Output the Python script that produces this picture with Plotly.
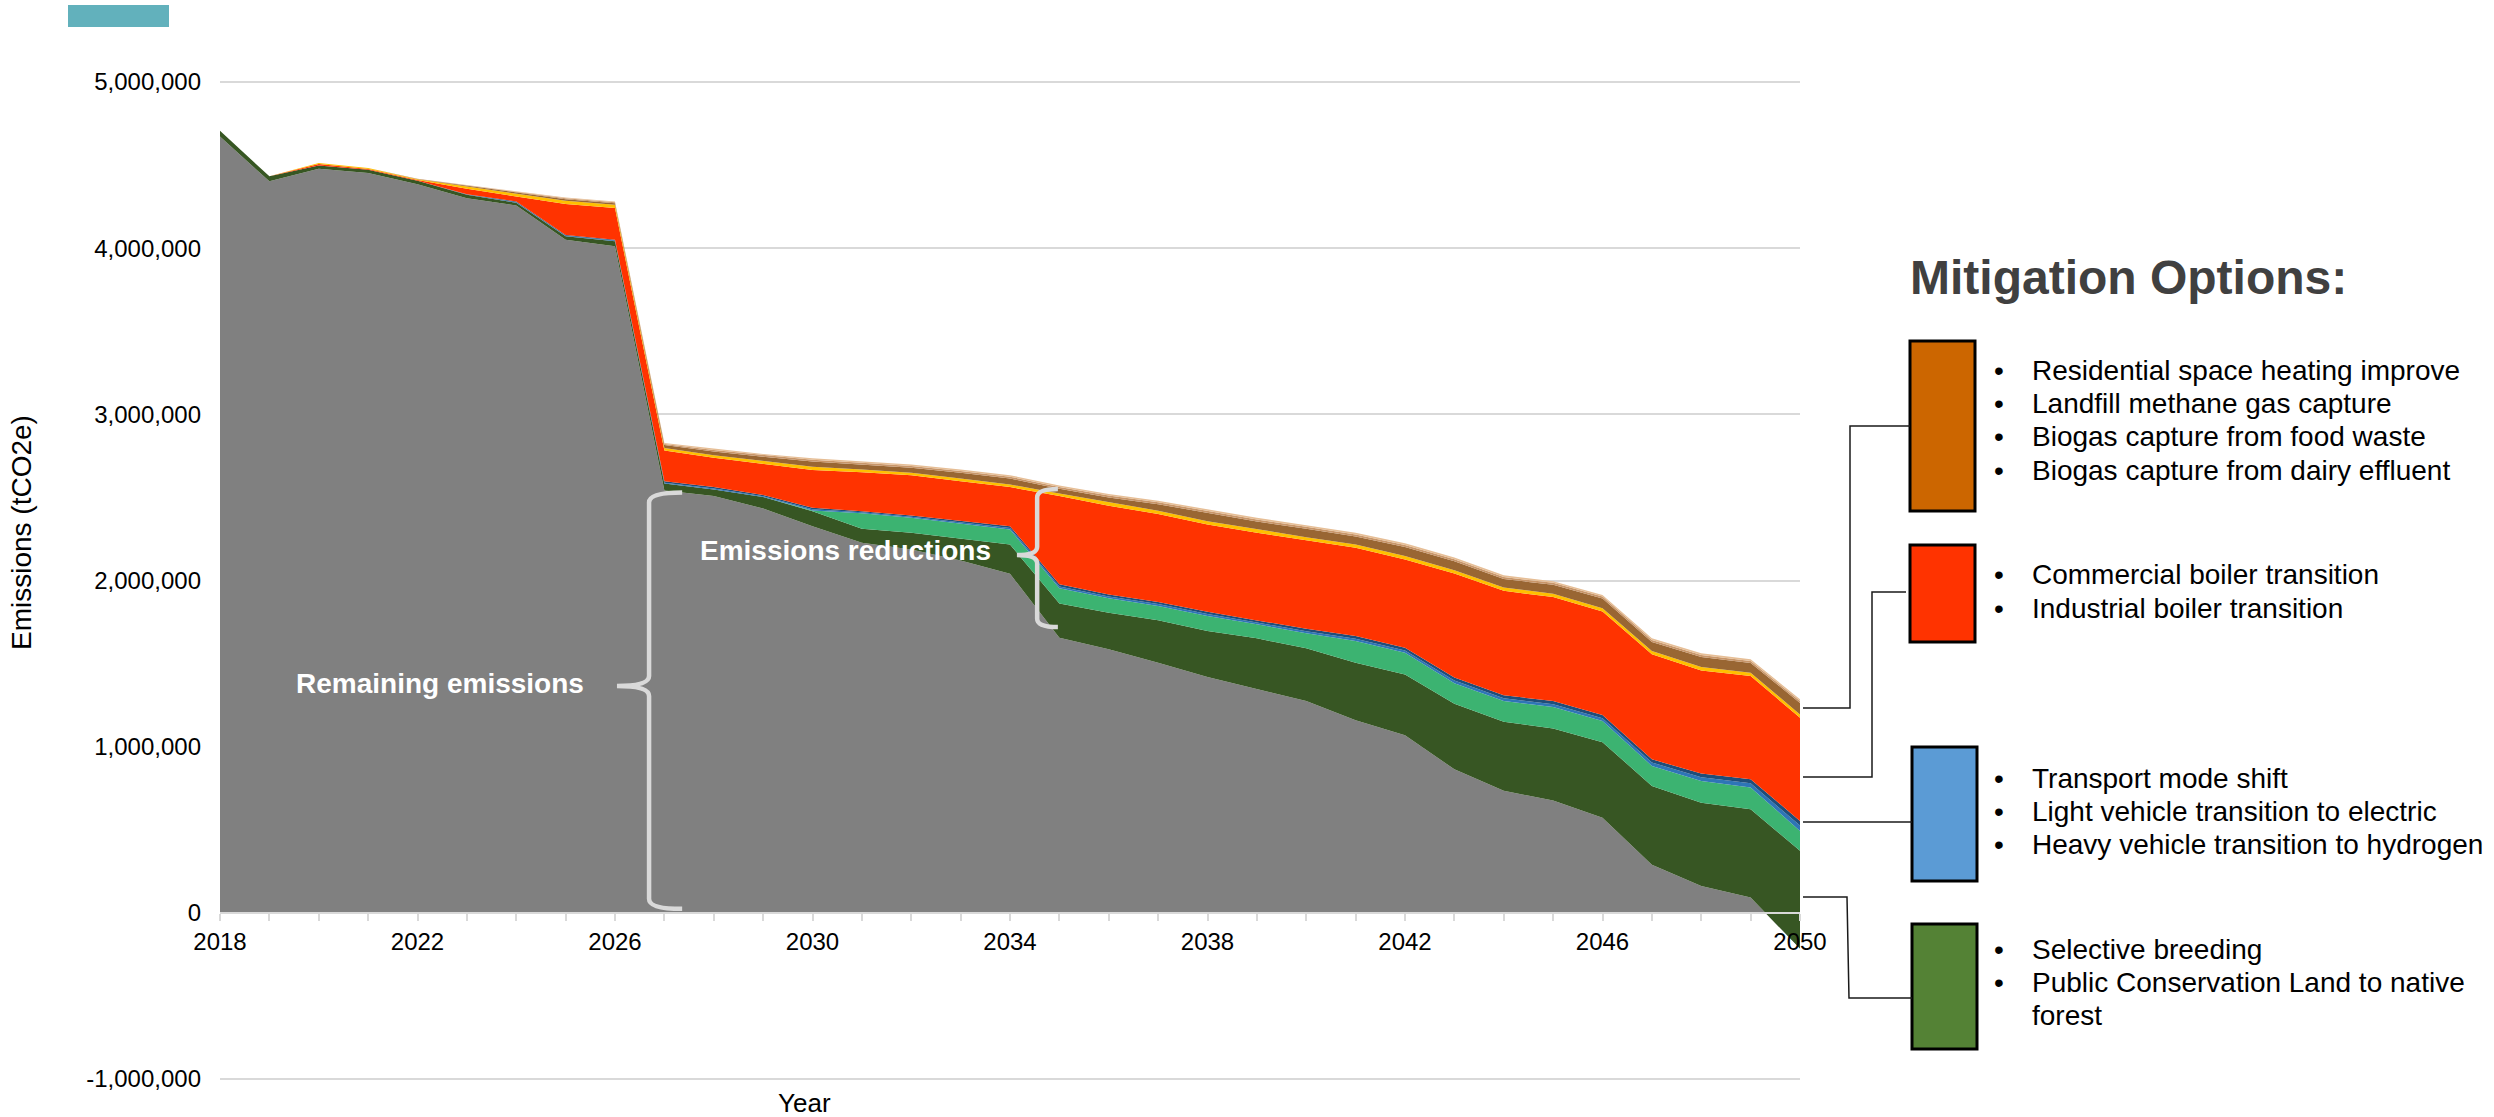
import plotly.graph_objects as go

# ---------------------------------------------------------------- data
years = list(range(2018, 2051))

# Remaining emissions after all mitigation (tCO2e)
remaining = [4672000, 4402000, 4478000, 4452000, 4385000, 4301000, 4257000, 4051000,
             4011000, 2541000, 2508000, 2434000, 2327000, 2227000, 2187000, 2121000,
             2040000, 1656000, 1586000, 1505000, 1419000, 1345000, 1275000, 1159000,
             1068000, 864000, 734000, 676000, 573000, 289000, 162000, 92000, -215000]

# Agriculture / land use group
native_forest = [34000, 30000, 20000, 20000, 20000, 20000, 16000, 20000, 30000, 42000,
                 40000, 68000, 90000, 84000, 100000, 132000, 177000, 205000, 220000,
                 256000, 277000, 307000, 317000, 346000, 367000, 395000, 416000, 434000,
                 454000, 475000, 501000, 532000, 588000]
selective_breeding = [0, 0, 0, 0, 0, 0, 0, 0, 0, 0, 0, 0, 5000, 93000, 90000, 90000,
                      90000, 92000, 87000, 86000, 90000, 84000, 90000, 131000, 130000,
                      122000, 125000, 129000, 128000, 120000, 131000, 130000, 120000]

# Transport group
transport_a = [0, 0, 0, 0, 0, 2000, 4000, 4000, 5000, 6000, 6000, 5000, 7000, 6000, 6000,
               6000, 9000, 11000, 10000, 11000, 12000, 11000, 13000, 14000, 14000, 17000,
               16000, 17000, 16000, 20000, 22000, 26000, 32000]
transport_b = [0, 0, 0, 0, 0, 2000, 4000, 4000, 5000, 8000, 8000, 7000, 9000, 7000, 8000,
               8000, 11000, 13000, 12000, 13000, 14000, 13000, 15000, 16000, 16000, 19000,
               18000, 19000, 19000, 20000, 22000, 24000, 28000]

# Boiler transitions
boilers = [0, 0, 8000, 4000, 5000, 32000, 30000, 186000, 190000, 185000, 176000, 188000,
           227000, 235000, 243000, 241000, 235000, 531000, 535000, 529000, 525000, 527000,
           531000, 531000, 532000, 625000, 629000, 625000, 623000, 632000, 621000, 621000,
           621000]

# Heating, waste and biogas group
heating = [0, 0, 6000, 6000, 5000, 14000, 18000, 20000, 20000, 16000, 16000, 16000, 20000,
           16000, 14000, 16000, 16000, 16000, 20000, 20000, 20000, 20000, 20000, 20000,
           20000, 20000, 20000, 20000, 20000, 20000, 20000, 20000, 20000]
landfill = [0, 0, 0, 0, 1000, 4000, 8000, 10000, 10000, 17000, 23000, 26000, 31000, 31000,
            31000, 34000, 36000, 28000, 30000, 39000, 48000, 48000, 50000, 48000, 55000,
            54000, 51000, 54000, 58000, 54000, 61000, 59000, 69000]
food_waste = [0, 0, 0, 0, 1000, 3000, 4000, 5000, 5000, 7000, 9000, 10000, 10000, 10000,
              10000, 11000, 11000, 11000, 11000, 12000, 12000, 12000, 12000, 12000, 12000,
              12000, 12000, 12000, 12000, 12000, 12000, 12000, 12000]
dairy = [0, 0, 0, 0, 1000, 3000, 4000, 5000, 5000, 6000, 8000, 8000, 9000, 9000, 9000,
         9000, 9000, 9000, 9000, 9000, 10000, 10000, 10000, 10000, 10000, 10000, 10000,
         10000, 10000, 10000, 10000, 10000, 10000]

x_tick_vals = years[::4]
x_tick_text = [str(y) for y in x_tick_vals]
y_tick_vals = [-1000000, 0, 1000000, 2000000, 3000000, 4000000, 5000000]
y_tick_text = ["-1,000,000", "0", "1,000,000", "2,000,000", "3,000,000", "4,000,000",
               "5,000,000"]

group_titles = [
    ["Residential space heating improve", "Landfill methane gas capture",
     "Biogas capture from food waste", "Biogas capture from dairy effluent"],
    ["Commercial boiler transition", "Industrial boiler transition"],
    ["Transport mode shift", "Light vehicle transition to electric",
     "Heavy vehicle transition to hydrogen"],
    ["Selective breeding", "Public Conservation Land to native", "forest"],
]

# ---------------------------------------------------------------- styling
FONT = "Liberation Sans, Arial, sans-serif"
W, H = 2494, 1117

# -1,000,000 .. 5,000,000 occupy pixel rows 1079 .. 82; the axis range is padded
# a little beyond that so the outermost gridlines are not dropped at the edges.
GRID_TOP_PX, GRID_BOT_PX = 82, 1079
Y_LO, Y_HI = -1000000, 5000000
Y_PAD = 24000
px_per_unit = (GRID_BOT_PX - GRID_TOP_PX) / (Y_HI - Y_LO)
Y_MIN, Y_MAX = Y_LO - Y_PAD, Y_HI + Y_PAD

L, R = 220, 1800
T = GRID_TOP_PX - Y_PAD * px_per_unit
B = GRID_BOT_PX + Y_PAD * px_per_unit


def px_x(p):
    return (p - L) / (R - L)


def px_y(p):
    return (B - p) / (B - T)


layers = [
    ("Remaining emissions", remaining, "#808080"),
    ("Public Conservation Land to native forest", native_forest, "#375623"),
    ("Selective breeding", selective_breeding, "#3CB371"),
    ("Transport (mode shift, heavy vehicles)", transport_a, "#2E75B6"),
    ("Light vehicle transition to electric", transport_b, "#1F4E79"),
    ("Commercial and industrial boiler transition", boilers, "#FF3300"),
    ("Residential space heating improve", heating, "#FFC000"),
    ("Landfill methane gas capture", landfill, "#996633"),
    ("Biogas capture from food waste", food_waste, "#C8966A"),
    ("Biogas capture from dairy effluent", dairy, "#E6BE96"),
]

fig = go.Figure()
for name, vals, col in layers:
    fig.add_trace(go.Scatter(
        x=years, y=vals, name=name, stackgroup="emissions", mode="lines",
        line=dict(width=0, color=col), fillcolor=col, hoverinfo="x+y+name",
    ))

shapes = []
annotations = []

# curly braces marking remaining emissions and reductions
def brace(ex, vx, tip, top, bot, mid, ry):
    path = (f"M {ex},{top} Q {vx},{top} {vx},{top - ry} "
            f"L {vx},{mid + ry} Q {vx},{mid} {tip},{mid} "
            f"Q {vx},{mid} {vx},{mid - ry} "
            f"L {vx},{bot + ry} Q {vx},{bot} {ex},{bot}")
    return dict(type="path", xref="x", yref="y", path=path,
                line=dict(color="#D9D9D9", width=4.5), layer="above")

shapes.append(brace(2027.36, 2026.69, 2026.04, 2530000, 24000, 1365000, 60000))
shapes.append(brace(2034.97, 2034.55, 2034.14, 2550000, 1720000, 2153000, 50000))

annotations.append(dict(x=px_x(440), y=px_y(683), xref="paper", yref="paper",
                        text="<b>Remaining emissions</b>", showarrow=False,
                        font=dict(family=FONT, size=28, color="white"),
                        xanchor="center", yanchor="middle"))
annotations.append(dict(x=px_x(845), y=px_y(551), xref="paper", yref="paper",
                        text="<b>Emissions reductions</b>", showarrow=False,
                        font=dict(family=FONT, size=28, color="white"),
                        xanchor="center", yanchor="middle"))

# axis titles
annotations.append(dict(x=px_x(22), y=px_y(533), xref="paper", yref="paper",
                        text="Emissions (tCO2e)", textangle=-90, showarrow=False,
                        font=dict(family=FONT, size=28, color="black"),
                        xanchor="center", yanchor="middle"))
annotations.append(dict(x=px_x(804), y=px_y(1103), xref="paper", yref="paper",
                        text="Year", showarrow=False,
                        font=dict(family=FONT, size=26, color="black"),
                        xanchor="center", yanchor="middle"))

# small teal tab at the top-left corner
shapes.append(dict(type="rect", xref="paper", yref="paper",
                   x0=px_x(68), x1=px_x(169), y0=px_y(27), y1=px_y(5),
                   fillcolor="#62B1BC", line=dict(width=0), layer="above"))

# ---------------------------------------------------------------- side legend
annotations.append(dict(x=px_x(1908), y=px_y(278), xref="paper", yref="paper",
                        text="<b>Mitigation Options:</b>", showarrow=False,
                        font=dict(family=FONT, size=48, color="#404040"),
                        xanchor="left", yanchor="middle"))

boxes = [  # (x0, x1, y0, y1, colour) in pixels
    (1910, 1975, 341, 511, "#CC6600"),
    (1910, 1975, 545, 642, "#FF3300"),
    (1912, 1977, 747, 881, "#5B9BD5"),
    (1912, 1977, 924, 1049, "#548235"),
]
for x0, x1, y0, y1, col in boxes:
    shapes.append(dict(type="rect", xref="paper", yref="paper",
                       x0=px_x(x0), x1=px_x(x1), y0=px_y(y1), y1=px_y(y0),
                       fillcolor=col, line=dict(color="black", width=3),
                       layer="above"))

line_rows = [[371, 404, 437, 471], [575, 608], [778, 811, 844], [949, 982, 1015]]
for texts, rows in zip(group_titles, line_rows):
    for txt, yy in zip(texts, rows):
        is_continuation = txt == "forest"
        if not is_continuation:
            annotations.append(dict(x=px_x(1999), y=px_y(yy), xref="paper",
                                    yref="paper", text="•", showarrow=False,
                                    font=dict(family=FONT, size=28, color="black"),
                                    xanchor="center", yanchor="middle"))
        annotations.append(dict(x=px_x(2030), y=px_y(yy), xref="paper", yref="paper",
                                text=txt, showarrow=False,
                                font=dict(family=FONT, size=28, color="black"),
                                xanchor="left", yanchor="middle"))

# connector lines from the 2050 stack edge to each legend box
connectors = [
    [(1803, 708), (1850, 708), (1850, 426), (1910, 426)],
    [(1803, 777), (1872, 777), (1872, 592), (1906, 592)],
    [(1803, 822), (1912, 822)],
    [(1803, 897), (1847, 897), (1849, 998), (1912, 998)],
]
for pts in connectors:
    path = "M " + " L ".join(f"{px_x(a)},{px_y(b)}" for a, b in pts)
    shapes.append(dict(type="path", xref="paper", yref="paper", path=path,
                       line=dict(color="#1a1a1a", width=1.5), layer="above"))

# ---------------------------------------------------------------- layout
fig.update_layout(
    width=W, height=H,
    margin=dict(l=L, r=W - R, t=T, b=H - B, pad=0),
    paper_bgcolor="white", plot_bgcolor="white",
    showlegend=False,
    font=dict(family=FONT, size=24, color="black"),
    xaxis=dict(
        range=[2018, 2050], anchor="free",
        position=(0 - Y_MIN) / (Y_MAX - Y_MIN),
        tickmode="array", tickvals=x_tick_vals, ticktext=x_tick_text,
        ticks="outside", ticklen=7, tickwidth=2, tickcolor="#D9D9D9",
        minor=dict(tickmode="array", tickvals=years, ticks="outside", ticklen=7,
                   tickwidth=2, tickcolor="#D9D9D9"),
        showline=True, linecolor="#D9D9D9", linewidth=2,
        showgrid=False, zeroline=False,
        tickfont=dict(family=FONT, size=24, color="black"),
    ),
    yaxis=dict(
        range=[Y_MIN, Y_MAX], tickmode="array",
        tickvals=y_tick_vals, ticktext=y_tick_text,
        showgrid=True, gridcolor="#D9D9D9", gridwidth=1.5,
        zeroline=False, showline=False, ticks="",
        ticklabelstandoff=18,
        tickfont=dict(family=FONT, size=24, color="black"),
    ),
    shapes=shapes,
    annotations=annotations,
)

fig.write_html("out.html")
